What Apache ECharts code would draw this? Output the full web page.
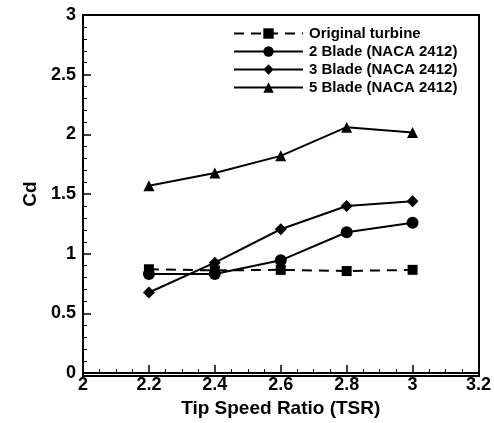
<!DOCTYPE html>
<html><head><meta charset="utf-8">
<script src="https://cdn.jsdelivr.net/npm/echarts@6/dist/echarts.min.js"></script>
<style>html,body{margin:0;padding:0;background:#fff}#c{width:494px;height:423px}</style>
</head><body><div id="c"></div>
<script>
const tsr = [2.2, 2.4, 2.6, 2.8, 3.0];
const original = [0.87, 0.86, 0.865, 0.855, 0.865];
const blade2 = [0.83, 0.83, 0.945, 1.18, 1.26];
const blade3 = [0.675, 0.925, 1.205, 1.40, 1.44];
const blade5 = [1.57, 1.676, 1.82, 2.06, 2.015];
const names = ['Original turbine', '2 Blade (NACA 2412)', '3 Blade (NACA 2412)', '5 Blade (NACA 2412)'];

const font = 'Liberation Sans, Arial, sans-serif';
function pairs(v){ return tsr.map((x,i)=>[x, v[i]]); }
const chart = echarts.init(document.getElementById('c'), null, {renderer:'canvas'});
const mk = (name, data, symbol, size, dashed) => ({
  name, type:'line', data: pairs(data), symbol, symbolSize:size,
  itemStyle:{color:'#000'},
  lineStyle:{color:'#000', width:2, type: dashed ? [10,7] : 'solid'},
  animation:false
});
chart.setOption({
  animation:false,
  grid:{left:83, right:15, top:15, bottom:47, containLabel:false},
  legend:{
    orient:'vertical', left:228, top:21, itemWidth:69, itemHeight:13, itemGap:3,
    textStyle:{fontFamily:font, fontWeight:'bold', fontSize:15, color:'#000', padding:[0,0,0,1]},
    data: names
  },
  xAxis:{
    type:'value', min:2, max:3.2, interval:0.2,
    axisLine:{show:true, lineStyle:{color:'#000', width:2}},
    axisTick:{show:true, inside:true, length:8, lineStyle:{color:'#000', width:1.5}},
    minorTick:{show:true, splitNumber:4, length:4, lineStyle:{color:'#000'}},
    splitLine:{show:false},
    axisLabel:{color:'#000', fontFamily:font, fontWeight:'bold', fontSize:18, margin:3,
      formatter: v => (Math.round(v*10)/10).toString()},
    name:'Tip Speed Ratio (TSR)', nameLocation:'middle', nameGap:22,
    nameTextStyle:{color:'#000', fontFamily:font, fontWeight:'bold', fontSize:19}
  },
  yAxis:{
    type:'value', min:0, max:3, interval:0.5,
    axisLine:{show:true, lineStyle:{color:'#000', width:2}},
    axisTick:{show:true, inside:true, length:8, lineStyle:{color:'#000', width:1.5}},
    minorTick:{show:true, splitNumber:5, length:4, lineStyle:{color:'#000'}},
    splitLine:{show:false},
    axisLabel:{color:'#000', fontFamily:font, fontWeight:'bold', fontSize:18, margin:7,
      formatter: v => (Math.round(v*10)/10).toString()},
    name:'Cd', nameLocation:'middle', nameGap:41, nameRotate:90,
    nameTextStyle:{color:'#000', fontFamily:font, fontWeight:'bold', fontSize:19}
  },
  graphic:[{type:'rect', shape:{x:83, y:15, width:396, height:361}, style:{fill:'none', stroke:'#000', lineWidth:2}, silent:true, z:-1}],
  series:[
    mk(names[0], original, 'rect', 10, true),
    mk(names[1], blade2, 'circle', 12, false),
    mk(names[2], blade3, 'diamond', 12, false),
    mk(names[3], blade5, 'triangle', 11, false)
  ]
});
</script></body></html>
